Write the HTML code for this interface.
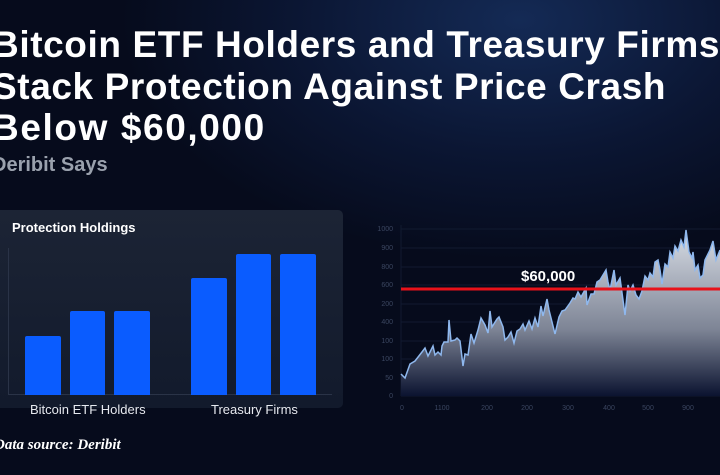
<!DOCTYPE html>
<html><head><meta charset="utf-8"><style>
html,body{margin:0;padding:0}
body{width:720px;height:475px;overflow:hidden;position:relative;font-family:"Liberation Sans",sans-serif;
background:radial-gradient(ellipse 500px 300px at 520px 20px,#142a55 0%,#0b1633 45%,#060b1c 80%),#060b1c;}
.t{position:absolute;left:-8px;color:#fff;font-weight:bold;font-size:37px;line-height:42px;white-space:nowrap;letter-spacing:0.6px}
.s{position:absolute;left:-8px;top:154px;color:#9aa1ad;font-weight:bold;font-size:20px}
.panel{position:absolute;left:-10px;top:210px;width:353px;height:198px;border-radius:5px;
background:linear-gradient(180deg,#1c2435,#121a2c)}
.ph{position:absolute;left:12px;top:220px;color:#fff;font-weight:bold;font-size:13px}
.bar{position:absolute;background:#0a5cff;border-radius:2px 2px 0 0;bottom:80px}
.lab{position:absolute;top:402px;color:#e6e9ef;font-size:13px}
.src{position:absolute;left:-6px;top:437px;color:#fff;font-family:"Liberation Serif",serif;font-style:italic;font-weight:bold;font-size:15px}
</style></head><body>
<div class="t" style="top:24px">Bitcoin ETF Holders and Treasury Firms</div>
<div class="t" style="top:66px">Stack Protection Against Price Crash</div>
<div class="t" style="top:107px;letter-spacing:1.6px">Below $60,000</div>
<div class="s">Deribit Says</div>
<div class="panel"></div>
<div class="ph">Protection Holdings</div>
<div style="position:absolute;left:8px;top:248px;width:1px;height:147px;background:#2a3347"></div>
<div style="position:absolute;left:8px;top:394px;width:324px;height:1px;background:#2a3347"></div>
<div class="bar" style="left:25px;width:36px;height:59px"></div>
<div class="bar" style="left:70px;width:35px;height:84px"></div>
<div class="bar" style="left:114px;width:36px;height:84px"></div>
<div class="bar" style="left:191px;width:36px;height:117px"></div>
<div class="bar" style="left:236px;width:35px;height:141px"></div>
<div class="bar" style="left:280px;width:36px;height:141px"></div>
<div class="lab" style="left:30px">Bitcoin ETF Holders</div>
<div class="lab" style="left:211px">Treasury Firms</div>
<div class="src">Data source: Deribit</div>
<svg width="720" height="475" style="position:absolute;left:0;top:0">
<defs><linearGradient id="g" x1="0" y1="0" x2="0" y2="1">
<stop offset="0" stop-color="#d8dde5"/><stop offset="0.6" stop-color="#7d8495"/><stop offset="1" stop-color="#0b1330"/></linearGradient></defs>
<g stroke="#111a30" stroke-width="1">
<line x1="401" y1="229" x2="720" y2="229"/><line x1="401" y1="248" x2="720" y2="248"/><line x1="401" y1="267" x2="720" y2="267"/><line x1="401" y1="285" x2="720" y2="285"/><line x1="401" y1="304" x2="720" y2="304"/><line x1="401" y1="322" x2="720" y2="322"/><line x1="401" y1="341" x2="720" y2="341"/><line x1="401" y1="359" x2="720" y2="359"/><line x1="401" y1="378" x2="720" y2="378"/><line x1="401" y1="396" x2="720" y2="396"/>
<line x1="401" y1="225" x2="401" y2="396"/>
</g>
<g fill="#3b4660" font-size="7" font-family="Liberation Sans" text-anchor="end">
<text x="393" y="231">1000</text><text x="393" y="250">900</text><text x="393" y="269">800</text><text x="393" y="287">600</text><text x="393" y="306">200</text><text x="393" y="324">400</text><text x="393" y="343">100</text><text x="393" y="361">100</text><text x="393" y="380">50</text><text x="393" y="398">0</text>
</g>
<g fill="#3b4660" font-size="7" font-family="Liberation Sans" text-anchor="middle">
<text x="402" y="410">0</text><text x="442" y="410">1100</text><text x="487" y="410">200</text><text x="527" y="410">200</text><text x="568" y="410">300</text><text x="609" y="410">400</text><text x="648" y="410">500</text><text x="688" y="410">900</text>
</g>
<path id="p" d="M401,374 L405,378 L410,364 L415,361 L422,352 L425,348 L428,356 L430,352 L433,346 L435,355 L438,352 L441,355 L442,346 L444,342 L448,342 L449,320 L451,341 L455,340 L457,338 L460,341 L463,366 L465,354 L468,355 L471,334 L474,343 L478,330 L481,318 L485,325 L488,333 L490,311 L492,327 L497,319 L499,317 L503,327 L505,340 L508,337 L511,332 L514,343 L517,331 L520,329 L523,324 L525,330 L529,321 L532,329 L535,318 L538,327 L541,306 L543,316 L547,299 L549,310 L552,322 L555,334 L559,317 L562,311 L565,310 L570,303 L573,298 L575,299 L578,292 L581,297 L586,288 L587,305 L591,294 L594,294 L597,282 L600,280 L603,275 L606,270 L608,282 L610,290 L614,270 L616,285 L620,278 L625,315 L628,285 L630,291 L633,285 L636,295 L639,299 L642,291 L645,276 L648,280 L650,273 L653,277 L655,262 L658,260 L660,270 L662,284 L665,264 L668,267 L670,252 L673,258 L675,246 L678,251 L681,240 L684,247 L686,230 L689,252 L692,258 L693,252 L695,270 L698,265 L700,278 L703,275 L705,260 L710,250 L713,241 L716,260 L720,250" fill="none"/>
<path d="M401,374 L405,378 L410,364 L415,361 L422,352 L425,348 L428,356 L430,352 L433,346 L435,355 L438,352 L441,355 L442,346 L444,342 L448,342 L449,320 L451,341 L455,340 L457,338 L460,341 L463,366 L465,354 L468,355 L471,334 L474,343 L478,330 L481,318 L485,325 L488,333 L490,311 L492,327 L497,319 L499,317 L503,327 L505,340 L508,337 L511,332 L514,343 L517,331 L520,329 L523,324 L525,330 L529,321 L532,329 L535,318 L538,327 L541,306 L543,316 L547,299 L549,310 L552,322 L555,334 L559,317 L562,311 L565,310 L570,303 L573,298 L575,299 L578,292 L581,297 L586,288 L587,305 L591,294 L594,294 L597,282 L600,280 L603,275 L606,270 L608,282 L610,290 L614,270 L616,285 L620,278 L625,315 L628,285 L630,291 L633,285 L636,295 L639,299 L642,291 L645,276 L648,280 L650,273 L653,277 L655,262 L658,260 L660,270 L662,284 L665,264 L668,267 L670,252 L673,258 L675,246 L678,251 L681,240 L684,247 L686,230 L689,252 L692,258 L693,252 L695,270 L698,265 L700,278 L703,275 L705,260 L710,250 L713,241 L716,260 L720,250 L720,396 L401,396 Z" fill="url(#g)"/>
<use href="#p" stroke="#8fb8ee" stroke-width="1.5"/>
<line x1="401" y1="289" x2="720" y2="289" stroke="#e8121a" stroke-width="3"/>
<text x="521" y="281" fill="#fff" font-size="15" font-weight="bold" font-family="Liberation Sans">$60,000</text>
</svg>
</body></html>
